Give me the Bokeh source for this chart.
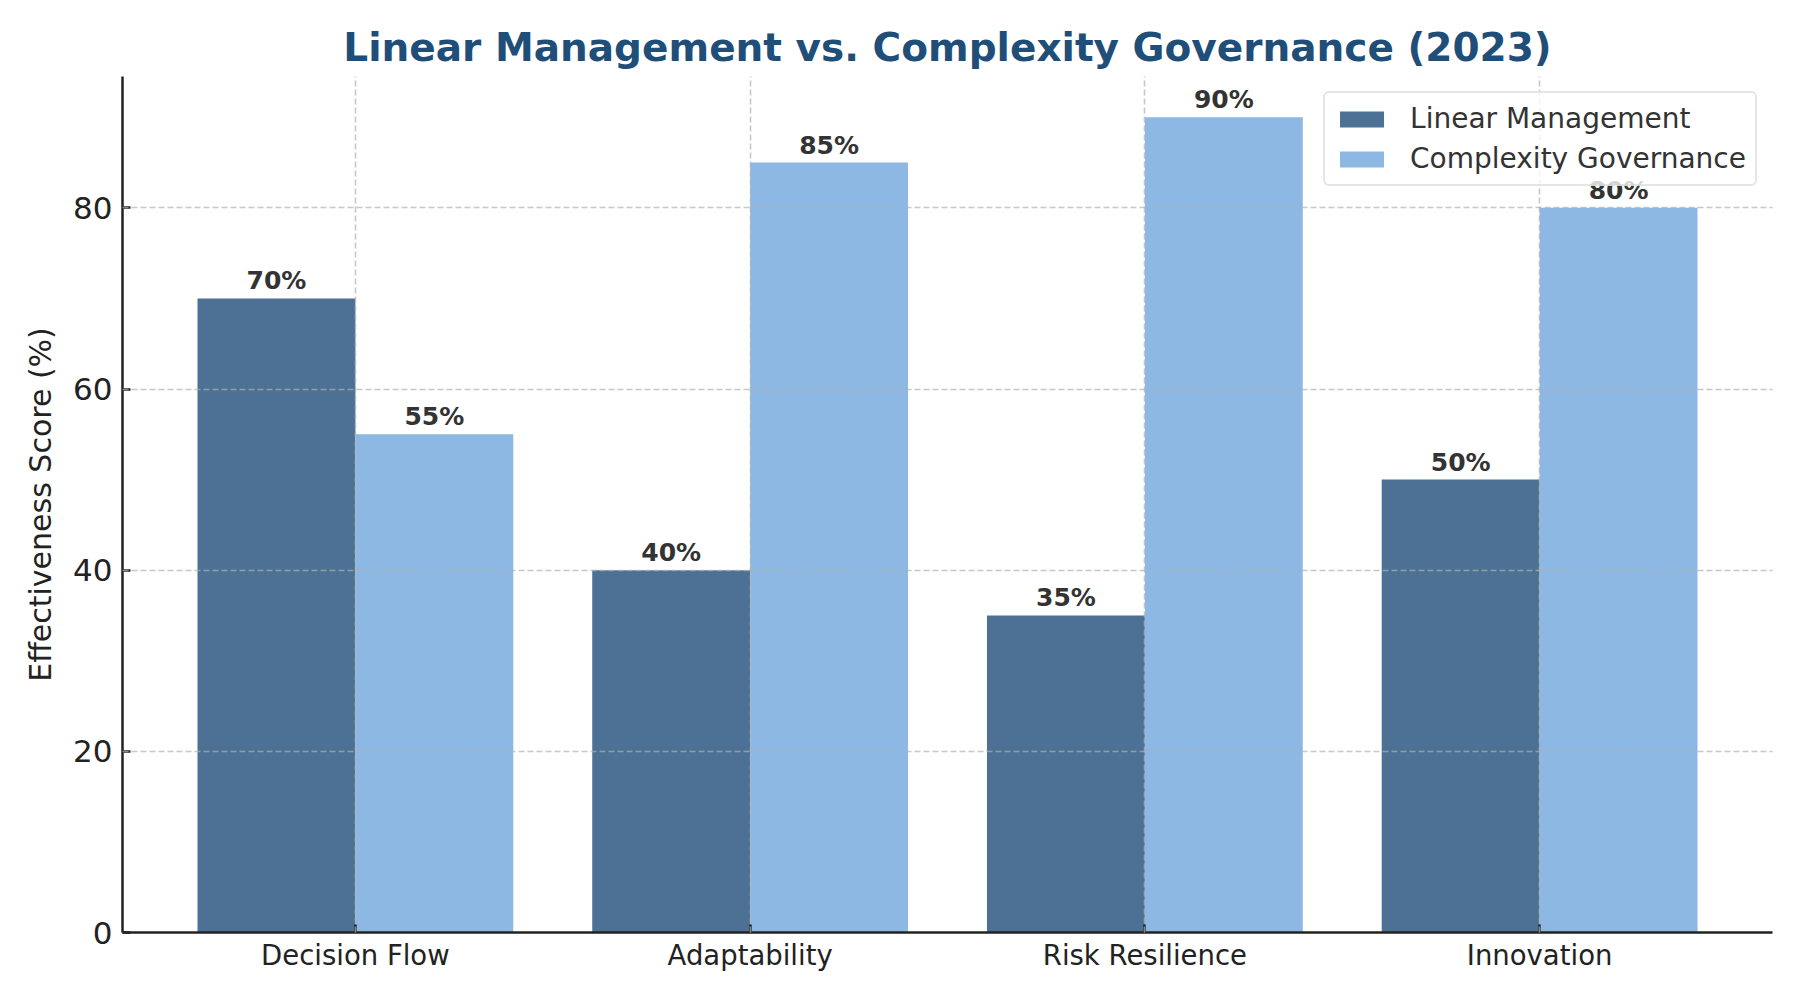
from bokeh.plotting import figure
from bokeh.models import ColumnDataSource, FixedTicker, Range1d, LabelSet
from bokeh.core.properties import value
from bokeh.transform import dodge
from bokeh.embed import file_html
from bokeh.resources import INLINE

# ---- data ----
categories = ["Decision Flow", "Adaptability", "Risk Resilience", "Innovation"]
linear_management = [70, 40, 35, 50]
complexity_governance = [55, 85, 90, 80]
series_names = ["Linear Management", "Complexity Governance"]
y_ticks = [0, 20, 40, 60, 80]
title_text = "Linear Management vs. Complexity Governance (2023)"
y_label = "Effectiveness Score (%)"

# ---- styles ----
FONT = "DejaVu Sans"
DARK = "#4c7194"
LIGHT = "#8cb8e3"
AXIS_C = "#222222"
BAR_W = 0.4

idx = list(range(len(categories)))
src = ColumnDataSource(dict(
    idx=idx,
    lin=linear_management,
    cpx=complexity_governance,
    lin_lbl=[f"{v}%" for v in linear_management],
    cpx_lbl=[f"{v}%" for v in complexity_governance],
))

span = (len(categories) - 1) + 2 * BAR_W
x_lo = -BAR_W - 0.05 * span
x_hi = (len(categories) - 1) + BAR_W + 0.05 * span
y_hi = max(max(linear_management), max(complexity_governance)) * 1.05

p = figure(width=1784, height=984,
           x_range=Range1d(x_lo, x_hi), y_range=Range1d(0, y_hi),
           output_backend="svg", toolbar_location=None,
           min_border_left=122, min_border_right=12,
           min_border_top=76, min_border_bottom=52)
p.outline_line_color = None
p.background_fill_color = "white"

p.vbar(x=dodge("idx", -BAR_W / 2), top="lin", width=BAR_W, source=src,
       fill_color=DARK, line_color=None, legend_label=series_names[0])
p.vbar(x=dodge("idx", BAR_W / 2), top="cpx", width=BAR_W, source=src,
       fill_color=LIGHT, line_color=None, legend_label=series_names[1])

for col, lbl, off in (("lin", "lin_lbl", -BAR_W / 2), ("cpx", "cpx_lbl", BAR_W / 2)):
    p.add_layout(LabelSet(x=dodge("idx", off), y=col, text=lbl, source=src,
                          text_align="center", text_baseline="alphabetic",
                          y_offset=9, text_font=value(FONT), text_font_size="25px",
                          text_font_style="bold", text_color="#333333"))

# axes
p.xaxis.ticker = FixedTicker(ticks=idx)
p.xaxis.major_label_overrides = {i: c for i, c in enumerate(categories)}
p.yaxis.ticker = FixedTicker(ticks=y_ticks)
for ax in (p.xaxis[0], p.yaxis[0]):
    ax.axis_line_color = AXIS_C
    ax.axis_line_width = 2.5
    ax.major_tick_line_color = AXIS_C
    ax.major_tick_line_width = 2.5
    ax.major_tick_in = 8
    ax.major_tick_out = 0
    ax.minor_tick_in = 0
    ax.minor_tick_out = 0
    ax.major_label_text_font = FONT
    ax.major_label_text_color = AXIS_C
p.xaxis.major_label_text_font_size = "27.5px"
p.xaxis.major_label_standoff = 6
p.yaxis.major_label_text_font_size = "31px"
p.yaxis.major_label_standoff = 10
p.yaxis.axis_label = y_label
p.yaxis.axis_label_text_font = FONT
p.yaxis.axis_label_text_font_size = "30px"
p.yaxis.axis_label_text_font_style = "normal"
p.yaxis.axis_label_text_color = AXIS_C
p.yaxis.axis_label_standoff = 12

# grid
for g in (p.xgrid[0], p.ygrid[0]):
    g.grid_line_color = "#b0b0b0"
    g.grid_line_alpha = 0.7
    g.grid_line_width = 1.6
    g.grid_line_dash = "6 3"
    g.level = "guide"

# title
p.title.text = title_text
p.title.align = "center"
p.title.text_font = FONT
p.title.text_font_size = "39px"
p.title.text_font_style = "bold"
p.title.text_color = "#1f4e79"
p.title.standoff = 14

# legend
lg = p.legend[0]
lg.location = "top_right"
lg.margin = 15
lg.padding = 9
lg.spacing = 7
lg.glyph_width = 55
lg.glyph_height = 20
lg.label_standoff = 21
lg.label_text_font = FONT
lg.label_text_font_size = "28px"
lg.label_text_color = "#333333"
lg.border_line_color = "#cccccc"
lg.border_line_width = 2
lg.background_fill_alpha = 0.8
if "border_radius" in lg.properties():
    lg.border_radius = 6

open("out.html", "w").write(file_html(p, INLINE))
